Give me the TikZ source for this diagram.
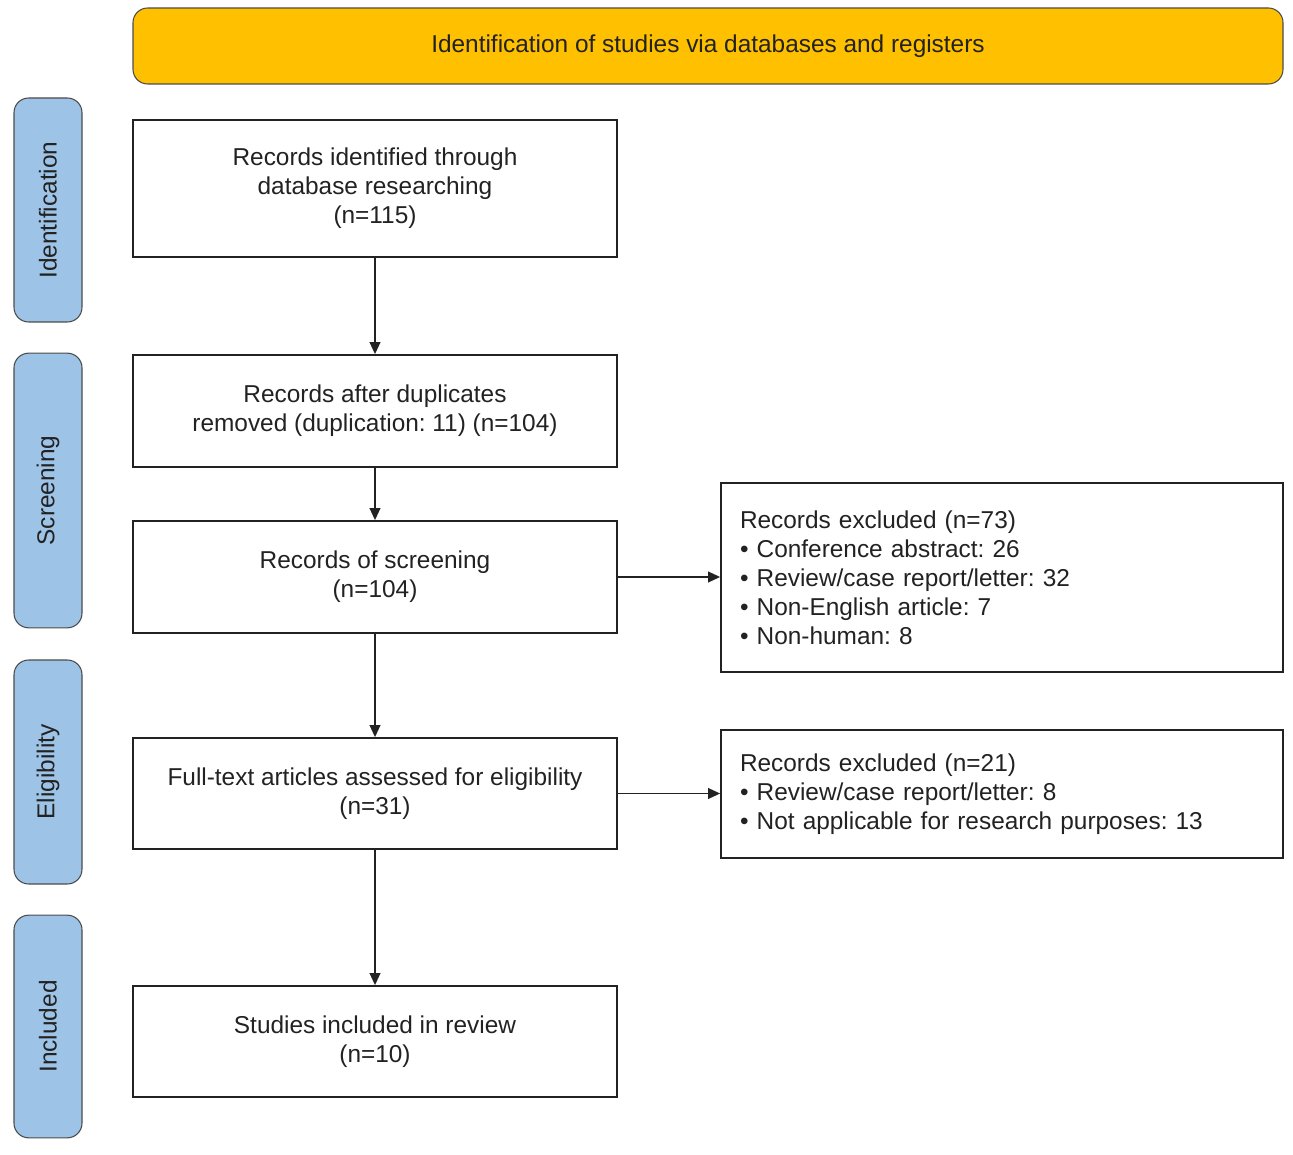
\documentclass[tikz,border=0pt]{standalone}
\usepackage{fontspec}
\setmainfont{Liberation Sans}
\usetikzlibrary{arrows.meta,positioning}
\definecolor{hdr}{HTML}{FFC000}
\definecolor{side}{HTML}{9DC3E6}
\definecolor{txt}{HTML}{222222}
\frenchspacing
\begin{document}
\begin{tikzpicture}[x=0.75pt,y=-0.75pt,
  every node/.style={font=\fontsize{18.3}{21.75}\selectfont, text=txt},
  box/.style={draw=txt, line width=1.3pt, fill=white, align=center, inner sep=0pt, minimum width=363pt},
  exbox/.style={draw=txt, line width=1.3pt, fill=white, align=left, inner xsep=14.25pt, inner ysep=0pt, text width=393pt},
  sidebox/.style={draw=black!70, line width=0.8pt, fill=side, rounded corners=11pt, minimum width=51pt, rotate=90, inner sep=0pt},
  arr/.style={line width=1.3pt, draw=txt, -{Triangle[length=9pt,width=8pt]}}]
\useasboundingbox (0,0) rectangle (1293,1155);
% header
\node[draw=black!70, line width=0.8pt, fill=hdr, rounded corners=11pt, minimum width=862.5pt, minimum height=57pt, inner sep=0pt] (hdr) at (708,46) {Identification of studies via databases and registers};
% side labels
\node[sidebox, minimum width=168pt, minimum height=51pt] (s1) at (48,210) {Identification};
\node[sidebox, minimum width=206pt, minimum height=51pt] (s2) at (48,490.5) {Screening};
\node[sidebox, minimum width=168pt, minimum height=51pt] (s3) at (48,772) {Eligibility};
\node[sidebox, minimum width=167pt, minimum height=51pt] (s4) at (48,1026.5) {Included};
% main boxes
\node[box, minimum height=102.75pt] (b1) at (375,188.5) {Records identified through\\database researching\\(n=115)};
\node[box, minimum height=84pt] (b2) at (375,411) {Records after duplicates\\removed (duplication: 11) (n=104)};
\node[box, minimum height=84pt] (b3) at (375,577) {Records of screening\\(n=104)};
\node[box, minimum height=83.25pt] (b4) at (375,793.5) {Full-text articles assessed for eligibility\\(n=31)};
\node[box, minimum height=83.25pt] (b5) at (375,1041.5) {Studies included in review\\(n=10)};
% exclusion boxes
\node[exbox, minimum height=141.75pt] (e1) at (1002,577.5) {Records excluded (n=73)\\\textbullet{} Conference abstract: 26\\\textbullet{} Review/case report/letter: 32\\\textbullet{} Non-English article: 7\\\textbullet{} Non-human: 8};
\node[exbox, minimum height=96pt] (e2) at (1002,794) {Records excluded (n=21)\\\textbullet{} Review/case report/letter: 8\\\textbullet{} Not applicable for research purposes: 13};
% arrows
\draw[arr] (b1) -- (b2);
\draw[arr] (b2) -- (b3);
\draw[arr] (b3) -- (b4);
\draw[arr] (b4) -- (b5);
\draw[arr] (b3.east) -- (b3.east -| e1.west);
\draw[arr] (b4.east) -- (b4.east -| e2.west);
\end{tikzpicture}
\end{document}
